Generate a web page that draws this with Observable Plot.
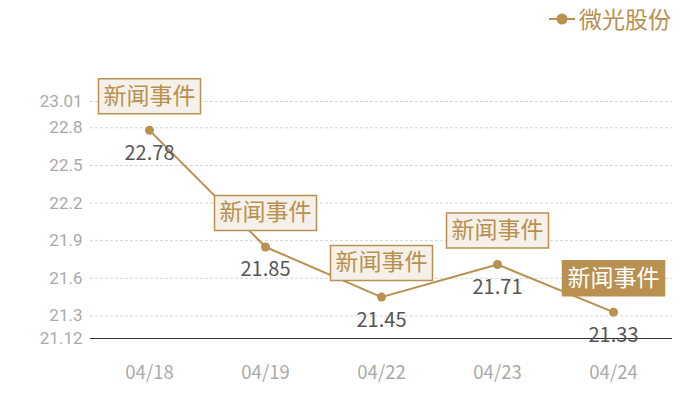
<!DOCTYPE html>
<html>
<head>
<meta charset="utf-8">
<script src="https://cdn.jsdelivr.net/npm/d3@7"></script>
<script src="https://cdn.jsdelivr.net/npm/@observablehq/plot@0.6"></script>
<style>
  body { margin: 0; background: #fff; font-family: "Noto Sans CJK SC", "Noto Sans", sans-serif; }
  #wrap { position: relative; width: 700px; height: 400px; }
  #legend { height: 40px; position: relative; }
  #legend svg { position: absolute; left: 549px; top: 9px; }
  #legend span { position: absolute; left: 579px; top: 3px; font-size: 23px; color: #b8904f; line-height: 30px; }
  .ytick text { fill: #aaa; font-family: Roboto, "Noto Sans", sans-serif; }
  .xtick text { fill: #aaa; }
</style>
</head>
<body>
<div id="wrap">
  <div id="legend">
    <svg width="26" height="20"><line x1="0" y1="10" x2="26" y2="10" stroke="#b8904f" stroke-width="2"/><circle cx="13" cy="10" r="5.5" fill="#b8904f"/></svg>
    <span>微光股份</span>
  </div>
  <div id="chart"></div>
</div>
<script>
const dates = ["04/18", "04/19", "04/22", "04/23", "04/24"];
const prices = [22.78, 21.85, 21.45, 21.71, 21.33];
const eventLabels = ["新闻事件", "新闻事件", "新闻事件", "新闻事件", "新闻事件"];
const highlighted = [false, false, false, false, true];
const yTicks = [23.01, 22.8, 22.5, 22.2, 21.9, 21.6, 21.3, 21.12];
const yMin = 21.12, yMax = 23.01;

const gold = "#b8904f";
const data = dates.map((d, i) => ({date: d, value: prices[i], label: eventLabels[i], hi: highlighted[i]}));

const boxSymbol = {
  draw(context) {
    context.moveTo(-51, -17.5);
    context.lineTo(51, -17.5);
    context.lineTo(51, 17.5);
    context.lineTo(-51, 17.5);
    context.closePath();
  }
};

const chart = Plot.plot({
  width: 700,
  height: 360,
  marginLeft: 90,
  marginRight: 28,
  marginTop: 61,
  marginBottom: 62,
  style: {fontFamily: '"Noto Sans CJK SC", "Noto Sans", sans-serif', background: "transparent"},
  x: {type: "point", domain: dates, padding: 0.5, label: null},
  y: {domain: [yMin, yMax], label: null},
  marks: [
    Plot.ruleY(yTicks.filter(t => t !== yMin), {stroke: "#d4d4d4", strokeDasharray: "3,2", strokeWidth: 1}),
    Plot.ruleY([yMin], {stroke: "#333", strokeWidth: 1}),
    Plot.axisY({ticks: yTicks, tickFormat: d => String(d), tickSize: 0, tickPadding: 8, fontSize: 17, className: "ytick"}),
    Plot.axisX({tickSize: 0, tickPadding: 27, fontSize: 18.5, className: "xtick"}),
    Plot.line(data, {x: "date", y: "value", stroke: gold, strokeWidth: 2}),
    Plot.dot(data, {x: "date", y: "value", r: 4.5, fill: gold}),
    Plot.text(data, {x: "date", y: "value", text: d => d.value.toFixed(2), dy: 23, fontSize: 20, fill: "#555"}),
    Plot.dot(data, {x: "date", y: "value", dy: -34, r: 10, symbol: boxSymbol, stroke: gold, strokeWidth: 1.5, fill: d => d.hi ? gold : "#f5f0e9"}),
    Plot.text(data, {x: "date", y: "value", text: "label", dy: -34, fontSize: 23, fill: d => d.hi ? "#ffffff" : gold})
  ]
});
document.getElementById("chart").appendChild(chart);
</script>
</body>
</html>
